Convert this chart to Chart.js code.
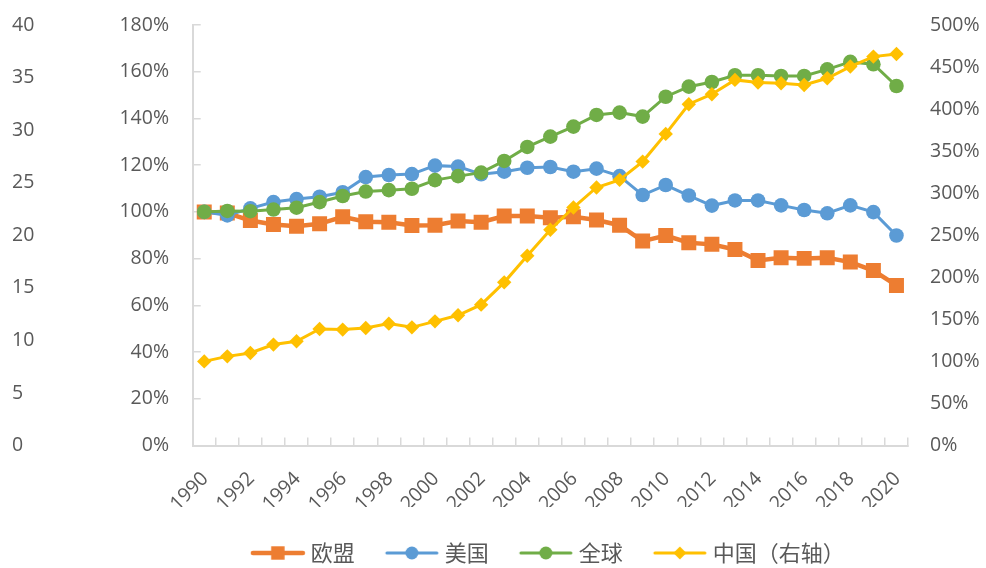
<!DOCTYPE html>
<html>
<head>
<meta charset="utf-8">
<script src="https://cdn.jsdelivr.net/npm/chart.js@4/dist/chart.umd.min.js"></script>
<style>
  html, body { margin: 0; padding: 0; background: #ffffff; }
  #wrap { width: 986px; height: 568px; }
</style>
</head>
<body>
<div id="wrap"><canvas id="c" width="986" height="568"></canvas></div>
<script>
// Years on the category axis
const years = [1990, 1991, 1992, 1993, 1994, 1995, 1996, 1997, 1998, 1999, 2000,
  2001, 2002, 2003, 2004, 2005, 2006, 2007, 2008, 2009, 2010,
  2011, 2012, 2013, 2014, 2015, 2016, 2017, 2018, 2019, 2020];

// Index values, 1990 = 100% (left axis)
const euValues = [100, 99.5, 96.3, 94.6, 93.9, 94.9, 97.9, 95.8, 95.6, 94.2, 94.3,
  96.1, 95.6, 98.2, 98.2, 97.5, 97.9, 96.5, 94.3, 87.5, 89.9,
  86.8, 86.1, 83.9, 79.2, 80.4, 80.1, 80.4, 78.5, 74.9, 68.5];
const usValues = [100, 98.5, 101.5, 104.2, 105.5, 106.5, 108.4, 114.9, 115.8, 116.2, 119.8,
  119.4, 116.1, 117.2, 118.9, 119.2, 117.2, 118.5, 115.3, 107.2, 111.5,
  107.0, 102.7, 104.9, 104.9, 102.8, 100.8, 99.4, 102.8, 99.9, 89.9];
const worldValues = [100, 100.4, 100.3, 101.0, 101.8, 104.2, 106.8, 108.7, 109.3, 109.9, 113.6,
  115.3, 116.8, 121.8, 127.8, 132.2, 136.5, 141.5, 142.5, 140.8, 149.3,
  153.6, 155.6, 158.5, 158.5, 158.2, 158.2, 161.0, 164.2, 163.2, 153.9];
// China, right axis
const chinaValues = [100, 106, 110, 120, 124, 138.6, 137.8, 139.8, 144.9, 140.5, 147.6,
  154.8, 167.5, 194, 225.7, 256.5, 283, 306.8, 315.9, 337.6, 370.5,
  405.8, 417.7, 434.7, 431.5, 430.8, 428.7, 436.7, 450.6, 462.4, 465.6];

// Axis tick ranges
const leftPctTicks = { min: 0, max: 180, step: 20 };
const rightPctTicks = { min: 0, max: 500, step: 50 };
const outerTicks = { min: 0, max: 40, step: 5 };

const seriesNames = ['欧盟', '美国', '全球', '中国（右轴）'];
const colors = ['#ED7D31', '#5B9BD5', '#70AD47', '#FFC000'];

const textColor = '#595959';
const axisColor = '#D9D9D9';
const tickFont = { family: "'Open Sans', 'Noto Sans', sans-serif", size: 19.5 };
const legendFont = { family: "'Noto Sans CJK SC', sans-serif", size: 22 };

// Legend swatch: a short line with the series marker on it
function swatch(color, style, lineW, r) {
  const cv = document.createElement('canvas');
  cv.width = 56; cv.height = 24;
  const g = cv.getContext('2d');
  g.strokeStyle = color;
  g.lineWidth = lineW;
  g.lineCap = 'round';
  g.beginPath(); g.moveTo(3, 12); g.lineTo(53, 12); g.stroke();
  g.fillStyle = color;
  g.beginPath();
  if (style === 'rect') {
    const s = r * Math.SQRT1_2;
    g.rect(28 - s, 12 - s, 2 * s, 2 * s);
  } else if (style === 'circle') {
    g.arc(28, 12, r, 0, Math.PI * 2);
  } else {
    g.moveTo(28 - r, 12); g.lineTo(28, 12 - r); g.lineTo(28 + r, 12); g.lineTo(28, 12 + r); g.closePath();
  }
  g.fill();
  return cv;
}

const styles = [
  { point: 'rect', radius: 10.6, width: 4.5 },
  { point: 'circle', radius: 7.3, width: 3 },
  { point: 'circle', radius: 7.3, width: 3 },
  { point: 'rectRot', radius: 7.2, width: 3 }
];
const swatches = styles.map((s, i) => swatch(colors[i], s.point, s.width, s.point === 'rect' ? 9.5 : 6.5));

const seriesData = [euValues, usValues, worldValues, chinaValues];
const datasets = seriesData.map((vals, i) => ({
  label: seriesNames[i],
  data: vals,
  yAxisID: i === 3 ? 'y1' : 'y',
  borderColor: colors[i],
  backgroundColor: colors[i],
  borderWidth: styles[i].width,
  pointStyle: styles[i].point,
  pointRadius: styles[i].radius,
  pointHoverRadius: styles[i].radius,
  pointBorderWidth: 0,
  tension: 0,
  order: 4 - i
}));

// Vertical axes keep a fixed width and only a small end overhang
function fixWidth(w) {
  return s => { s.width = w; s.paddingTop = 10; s.paddingBottom = 10; };
}

new Chart(document.getElementById('c'), {
  type: 'line',
  data: { labels: years.map(String), datasets },
  options: {
    responsive: false,
    animation: false,
    events: [],
    layout: { padding: { left: 12, right: 0, top: 25, bottom: 0 } },
    plugins: {
      tooltip: { enabled: false },
      legend: {
        position: 'bottom',
        fullSize: false,
        maxHeight: 61,
        labels: {
          usePointStyle: true,
          pointStyleWidth: 44,
          padding: 35,
          color: textColor,
          font: legendFont,
          generateLabels(chart) {
            return chart.data.datasets.map((ds, i) => ({
              text: ds.label,
              pointStyle: swatches[i],
              fillStyle: colors[i],
              strokeStyle: colors[i],
              lineWidth: 0,
              fontColor: textColor,
              hidden: false,
              datasetIndex: i
            }));
          }
        }
      }
    },
    scales: {
      x: {
        type: 'category',
        offset: true,
        grid: { display: true, drawOnChartArea: false, drawTicks: true, tickLength: -8, offset: true, color: axisColor, lineWidth: 1.5 },
        border: { display: true, color: axisColor, width: 2 },
        ticks: {
          autoSkip: false,
          minRotation: 45,
          maxRotation: 45,
          padding: 30,
          labelOffset: 1,
          color: textColor,
          font: tickFont,
          callback(v, i) { return i % 2 === 0 ? this.getLabelForValue(v) : ''; }
        },
        afterFit(s) { s.height = 61.5; }
      },
      yOuter: {
        type: 'linear',
        position: 'left',
        weight: 1,
        min: outerTicks.min,
        max: outerTicks.max,
        grid: { display: false, drawTicks: false },
        border: { display: false },
        ticks: { stepSize: outerTicks.step, crossAlign: 'far', padding: 0, color: textColor, font: tickFont },
        afterFit: fixWidth(60)
      },
      y: {
        type: 'linear',
        position: 'left',
        weight: 0,
        min: leftPctTicks.min,
        max: leftPctTicks.max,
        grid: { display: true, drawOnChartArea: false, drawTicks: true, tickLength: -8, color: axisColor, lineWidth: 1.5 },
        border: { display: true, color: axisColor, width: 2 },
        ticks: { stepSize: leftPctTicks.step, padding: 31.7, color: textColor, font: tickFont, callback: v => v + '%' },
        afterFit: fixWidth(120.7)
      },
      y1: {
        type: 'linear',
        position: 'right',
        min: rightPctTicks.min,
        max: rightPctTicks.max,
        grid: { display: false, drawTicks: false },
        border: { display: false },
        ticks: { stepSize: rightPctTicks.step, padding: 22, color: textColor, font: tickFont, callback: v => v + '%' },
        afterFit: fixWidth(78)
      }
    }
  }
});
</script>
</body>
</html>
